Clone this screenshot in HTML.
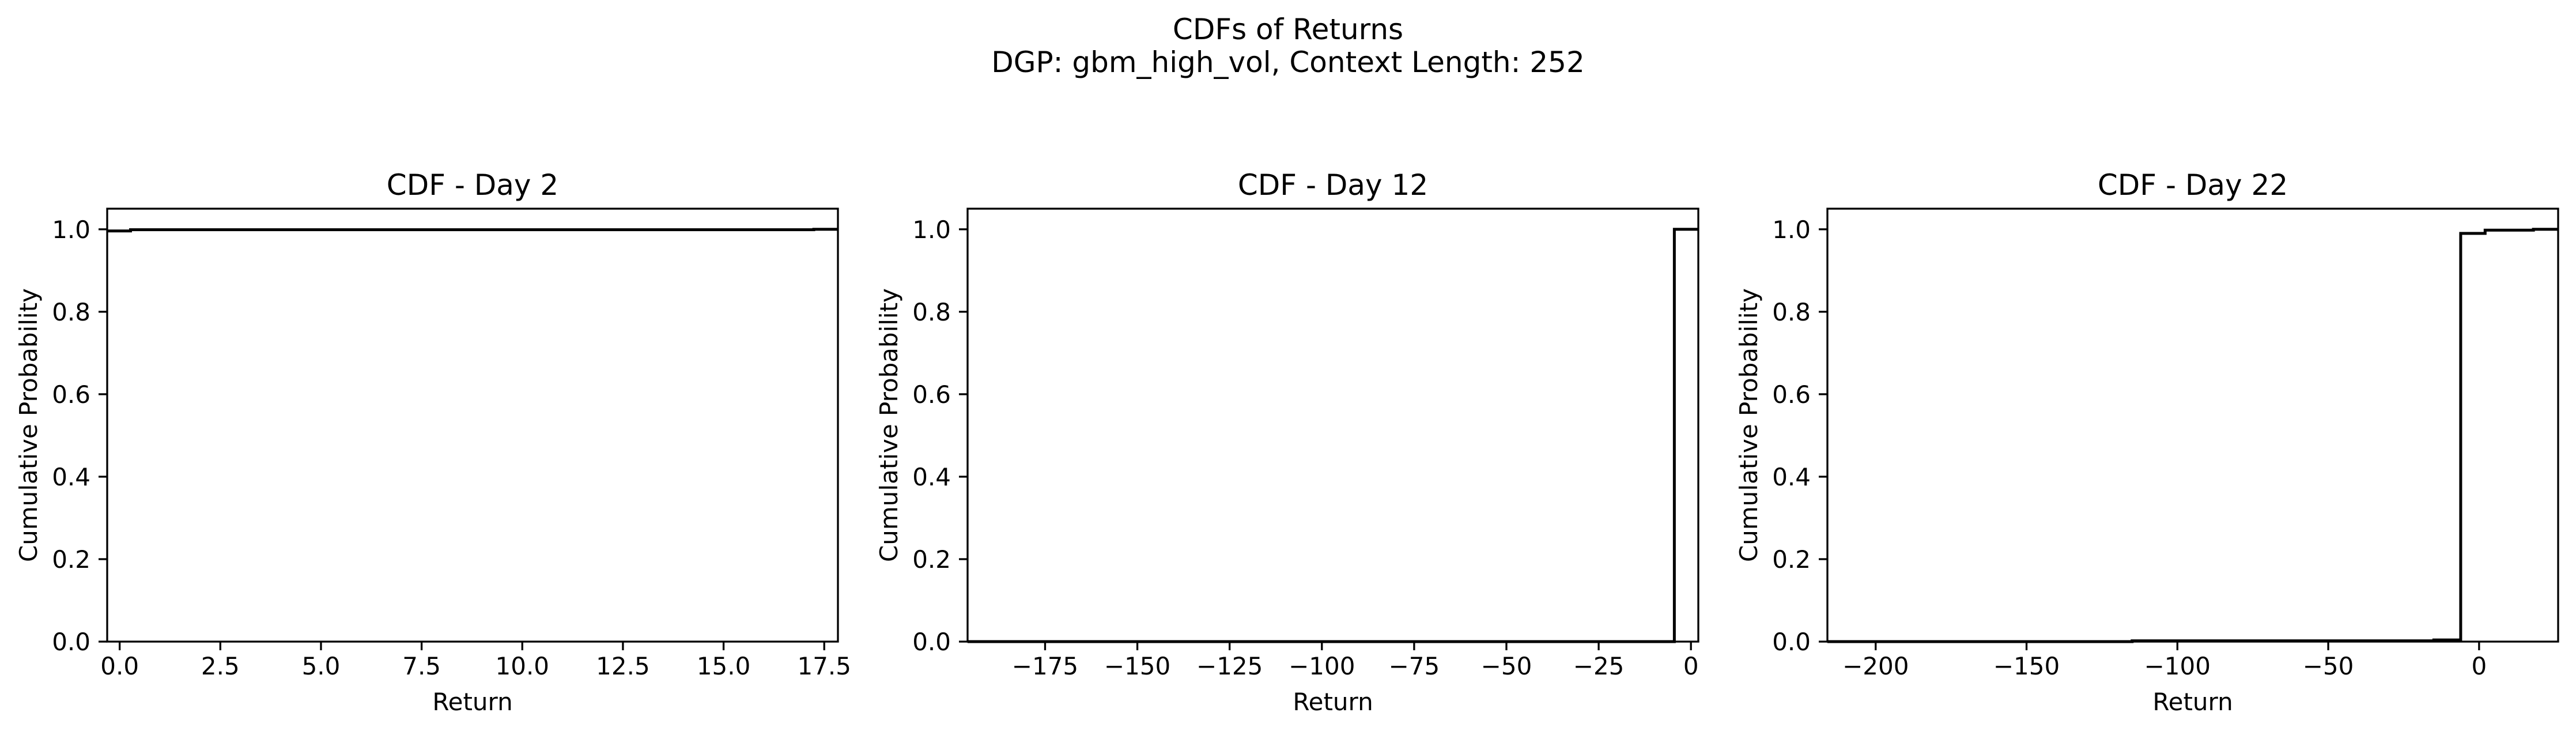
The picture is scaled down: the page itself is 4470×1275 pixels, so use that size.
<!DOCTYPE html>
<html><head><meta charset="utf-8"><style>
html,body{margin:0;padding:0;background:#fff;}
svg{display:block;font-family:"DejaVu Sans","Liberation Sans",sans-serif;}
</style></head><body>
<svg id="fig" width="4470" height="1275" viewBox="0 0 4470 1275">
<text x="2235" y="68" text-anchor="middle" font-size="50">CDFs of Returns</text>
<text x="2235" y="125" text-anchor="middle" font-size="50">DGP: gbm_high_vol, Context Length: 252</text>
</svg>
<script>
const panelTitles = ["CDF - Day 2", "CDF - Day 12", "CDF - Day 22"];
const xLimits = [[-0.31, 17.84], [-196, 2.0], [-216, 26.2]];
const xTicks = [[0, 2.5, 5, 7.5, 10, 12.5, 15, 17.5], [-175, -150, -125, -100, -75, -50, -25, 0], [-200, -150, -100, -50, 0]];
const xTickLabels = [["0.0","2.5","5.0","7.5","10.0","12.5","15.0","17.5"], ["\u2212175","\u2212150","\u2212125","\u2212100","\u221275","\u221250","\u221225","0"], ["\u2212200","\u2212150","\u2212100","\u221250","0"]];
const yTicks = [0, 0.2, 0.4, 0.6, 0.8, 1.0];
const yTickLabels = ["0.0","0.2","0.4","0.6","0.8","1.0"];
const stepX1 = [-0.31, 0.27, 17.24, 17.84];
const stepY1 = [0.996, 0.999, 1.0];
const stepX2 = [-196, -4.5, 2.0];
const stepY2 = [0.0, 1.0];
const stepX3 = [-216, -115, -15, -6.1, 2.0, 18, 26.2];
const stepY3 = [0.0, 0.002, 0.004, 0.99, 0.998, 1.0];
const stepsX = [stepX1, stepX2, stepX3];
const stepsY = [stepY1, stepY2, stepY3];

const NS = "http://www.w3.org/2000/svg";
const svg = document.getElementById('fig');
const lefts = [186, 1679, 3171];
const W = 1268, axTop = 362, axBottom = 1113;
function mk(tag, attrs, parent){const e=document.createElementNS(NS,tag);for(const k in attrs)e.setAttribute(k,attrs[k]);parent.appendChild(e);return e;}

for (let p = 0; p < 3; p++) {
  const L = lefts[p];
  const x0 = xLimits[p][0], x1 = xLimits[p][1];
  const sx = v => L + (v - x0) / (x1 - x0) * W;
  const sy = v => axBottom - v / 1.05 * (axBottom - axTop);
  const g = mk('g', {}, svg);
  
  
  const xs = stepsX[p], ys = stepsY[p];
  let d = '';
  for (let i = 0; i < ys.length; i++) {
    d += (i === 0 ? 'M' : 'L') + sx(xs[i]).toFixed(1) + ',' + sy(ys[i]).toFixed(1);
    d += 'L' + sx(xs[i+1]).toFixed(1) + ',' + sy(ys[i]).toFixed(1);
  }
  const line = mk('path', {d: d, fill: 'none', stroke: '#000', 'stroke-width': 5}, g);
  
  
  const frame = mk('rect', {x: L, y: axTop, width: W, height: axBottom - axTop, fill: 'none', stroke: '#000', 'stroke-width': 3.3}, g);
  
  
  xTicks[p].forEach((v, i) => {
    const x = sx(v);
    mk('line', {x1: x, x2: x, y1: axBottom, y2: axBottom + 15, stroke: '#000', 'stroke-width': 3.3}, g);
    const t = mk('text', {x: x, y: axBottom + 57, 'text-anchor': 'middle', 'font-size': 42}, g);
    t.textContent = xTickLabels[p][i];
    
    
  });
  yTicks.forEach((v, i) => {
    const y = sy(v);
    mk('line', {x1: L - 15, x2: L, y1: y, y2: y, stroke: '#000', 'stroke-width': 3.3}, g);
    const t = mk('text', {x: L - 29, y: y + 15, 'text-anchor': 'end', 'font-size': 42}, g);
    t.textContent = yTickLabels[i];
    
    
  });
  const title = mk('text', {x: L + W / 2, y: 338, 'text-anchor': 'middle', 'font-size': 50}, g);
  title.textContent = panelTitles[p];
  
  
  const xl = mk('text', {x: L + W / 2, y: 1232, 'text-anchor': 'middle', 'font-size': 42}, g);
  xl.textContent = 'Return';
  
  
  const yx = L - 122, yy = (axTop + axBottom) / 2;
  const yl = mk('text', {x: yx, y: yy, 'text-anchor': 'middle', 'font-size': 42, transform: 'rotate(-90 ' + yx + ' ' + yy + ')'}, g);
  yl.textContent = 'Cumulative Probability';
  
  
}
</script>
</body></html>
